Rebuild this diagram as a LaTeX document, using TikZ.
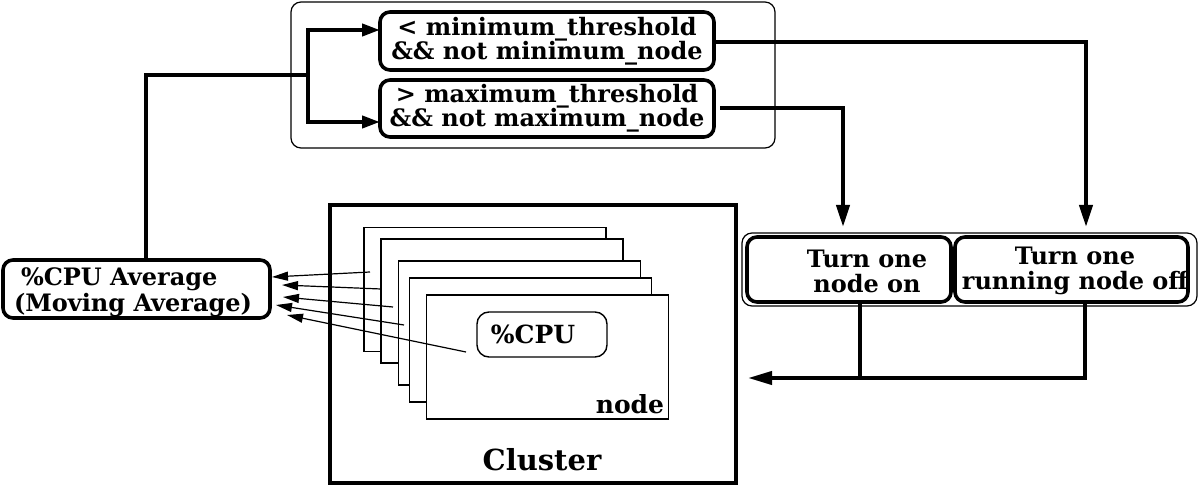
\documentclass[tikz,border=0pt]{standalone}
\usepackage{fontspec}
\setmainfont{DejaVu Serif}
\usetikzlibrary{arrows.meta}
\begin{document}
\begin{tikzpicture}[x=0.5pt,y=-0.5pt,
  every node/.style={inner sep=0pt, outer sep=0pt, align=center},
  txt/.style={font=\bfseries\fontsize{12}{12}\selectfont},
  thickline/.style={line width=2pt},
  thinframe/.style={draw, line width=0.6pt, rounded corners=5pt},
  condbox/.style={draw, line width=1.8pt, rounded corners=5pt, txt},
  actbox/.style={draw, line width=1.8pt, rounded corners=5pt},
  hostrect/.style={draw, fill=white, line width=0.7pt, minimum width=121pt, minimum height=62pt},
  bigtip/.style={-{Triangle[length=11pt,width=6.5pt]}},
  midtip/.style={-{Triangle[length=9pt,width=6pt]}},
  smalltip/.style={-{Triangle[length=8pt,width=4.5pt]}},
  feed/.style={line width=0.6pt, smalltip}
]
\useasboundingbox (0,0) rectangle (1200,491);

% top frame with condition boxes
\node[thinframe, minimum width=242pt, minimum height=73pt] (topframe) at (533,75) {};
\node[condbox, minimum width=167pt, minimum height=29pt] (minbox) at (547,41)
  {< minimum\_threshold\\\&\& not minimum\_node};
\node[condbox, minimum width=167pt, minimum height=28.5pt] (maxbox) at (547,108.5)
  {> maximum\_threshold\\\&\& not maximum\_node};

% average box
\node[actbox, minimum width=133.5pt, minimum height=29pt] (avg) at (136.5,289) {};
\node[font=\bfseries\fontsize{12}{11.2}\selectfont, anchor=west, align=left] (avgtext) at (14,292)
  {\hspace{3.5pt}\%CPU Average\\(Moving Average)};

% action boxes
\node[thinframe, minimum width=227.5pt, minimum height=36.5pt] (turnframe) at (969.5,269.5) {};
\node[actbox, minimum width=102pt, minimum height=32.5pt] (onbox) at (849,269.5) {};
\node[actbox, minimum width=116.5pt, minimum height=32.5pt] (offbox) at (1071.5,269.5) {};
\node[font=\bfseries\fontsize{12}{12.5}\selectfont] (ontext) at (867,271) {Turn one\\node on};
\node[font=\bfseries\fontsize{12}{12.5}\selectfont] (offtext) at (1075,271) {Turn one\\running node off};

% cluster
\node[draw, line width=2pt, minimum width=203pt, minimum height=139pt] (cluster) at (533,344) {};
\node[hostrect] (r1) at (485,289.5) {};
\node[hostrect] (r2) at (502,301) {};
\node[hostrect] (r3) at (519.5,323) {};
\node[hostrect] (r4) at (530.5,340) {};
\node[hostrect] (r5) at (547.5,357) {};
\node[draw, line width=0.7pt, rounded corners=6pt, minimum width=65pt, minimum height=22.5pt,
  font=\bfseries\fontsize{12.5}{12.5}\selectfont] (cpu) at (542,334.5) {\hspace{-9pt}\%CPU};
\node[font=\bfseries\fontsize{12.5}{12.5}\selectfont] (nodelbl) at (630,404) {node};
\node[font=\bfseries\fontsize{14.5}{14.5}\selectfont] (clusterlbl) at (542,460) {Cluster};

% feed arrows from hosts to average
\coordinate (s1) at (370,272);
\coordinate (s2) at (381,289);
\coordinate (s3) at (393,307);
\coordinate (s4) at (404,325);
\coordinate (s5) at (466,352);
\coordinate (t1) at (272,277);
\coordinate (t2) at (282,285);
\coordinate (t3) at (283,297);
\coordinate (t4) at (276,305);
\coordinate (t5) at (287,315);
\draw[feed] (s1) -- (t1);
\draw[feed] (s2) -- (t2);
\draw[feed] (s3) -- (t3);
\draw[feed] (s4) -- (t4);
\draw[feed] (s5) -- (t5);

% average to conditions
\coordinate (split) at (308,75);
\draw[thickline] ([xshift=4.75pt]avg.north) |- (split);
\draw[thickline, midtip] (split) |- ([yshift=5.5pt]minbox.west);
\draw[thickline, midtip] (split) |- ([yshift=-6.75pt]maxbox.west);

% conditions to actions
\draw[thickline, bigtip] ([yshift=-0.5pt]minbox.east) -| ([xshift=7.25pt,yshift=5pt]offbox.north);
\draw[thickline, bigtip] ([xshift=3pt]maxbox.east) -| ([xshift=-3pt,yshift=5pt]onbox.north);

% actions back to cluster
\coordinate (ret) at (748,378);
\coordinate (onb) at ([xshift=5.5pt]onbox.south);
\draw[thickline] (onb) -- (onb |- ret);
\draw[thickline, -{Triangle[length=12pt,width=6.5pt]}] ([xshift=6.75pt]offbox.south) |- (ret);
\end{tikzpicture}
\end{document}
